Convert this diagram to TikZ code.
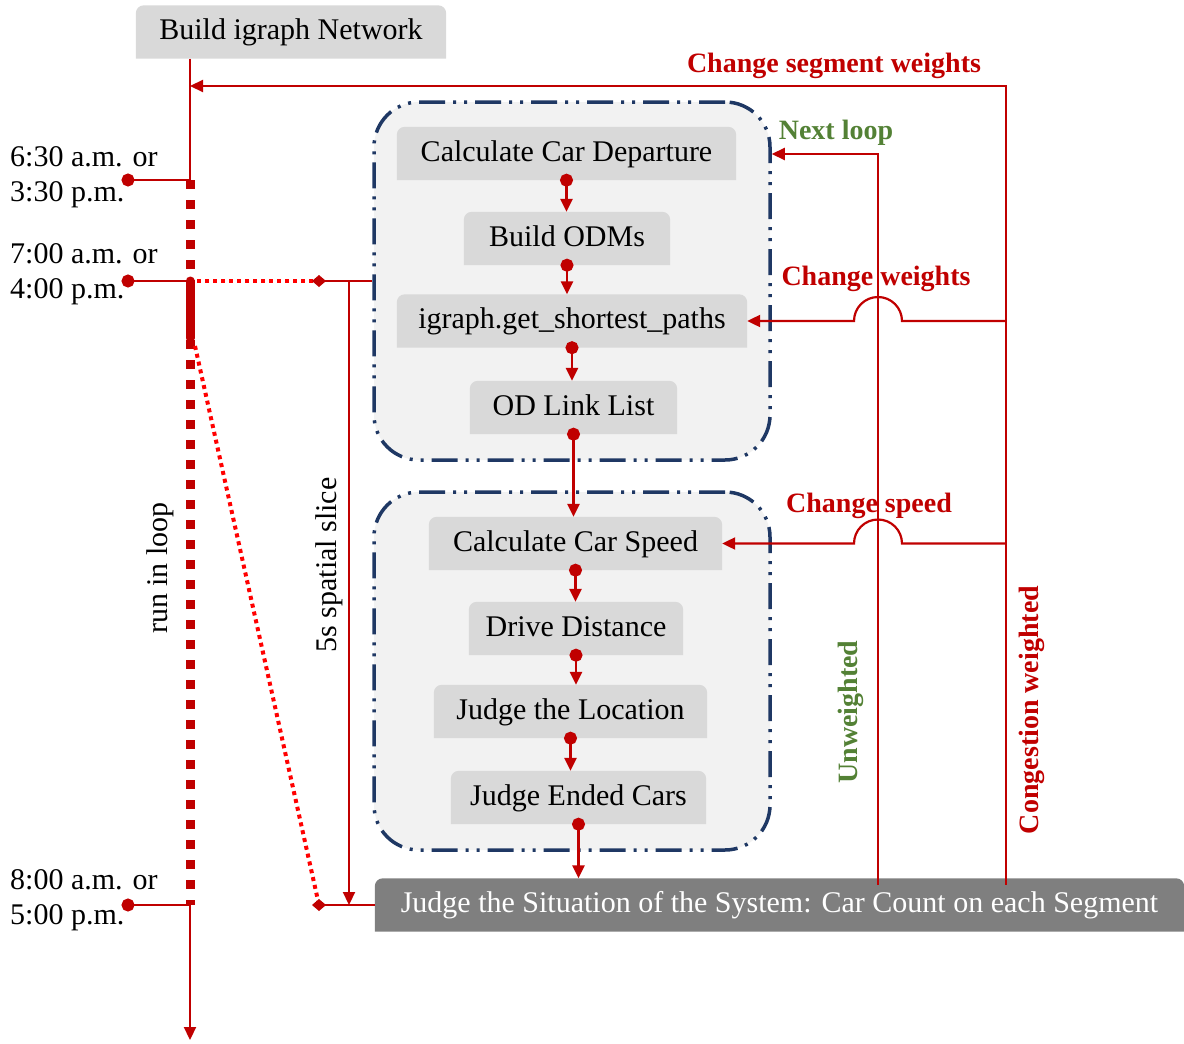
\documentclass[tikz,border=0pt]{standalone}
\usepackage{fontspec}
\setmainfont{Liberation Serif}
\usetikzlibrary{arrows.meta,backgrounds,calc}
\definecolor{dred}{HTML}{C00000}
\definecolor{bred}{HTML}{FF0000}
\definecolor{navy}{HTML}{1F3864}
\definecolor{lgray}{HTML}{D9D9D9}
\definecolor{vlgray}{HTML}{F2F2F2}
\definecolor{dgray}{HTML}{7F7F7F}
\definecolor{dgreen}{HTML}{538135}
\newcommand\fsz{\fontsize{30}{35}\selectfont}
\newcommand\lsz{\fontsize{28}{33}\selectfont\bfseries}
\newcommand\toprnd[2]{\fill[#2] (#1.south west) [rounded corners=8pt] -- (#1.north west) -- (#1.north east) [sharp corners] -- (#1.south east) -- cycle;}
\begin{document}
\begin{tikzpicture}[x=1pt,y=-1pt,
  txt/.style={font=\fsz, inner sep=0pt},
  lbl/.style={font=\lsz, inner sep=0pt},
  stepbox/.style={txt, minimum height=53pt, text height=21pt, text depth=6pt},
  container/.style={draw=navy, fill=vlgray, line width=3.5pt, rounded corners=45pt,
     dash pattern=on 26pt off 8pt on 3pt off 8pt on 3pt off 8pt,
     minimum width=396pt, minimum height=358pt, inner sep=0pt},
  conn/.style={dred, line width=2.5pt, shorten <=-6.5pt,
     {Circle[length=13pt]}-{Triangle[length=13pt,width=12pt]}},
  rline/.style={dred, line width=2.2pt},
  tip/.style={-{Triangle[length=13pt,width=12pt]}},
  dotred/.style={bred, line width=4pt, dash pattern=on 4pt off 4pt},
  dia/.style={{Diamond[length=14pt,width=12pt]}-, shorten <=-7pt},
  dot/.style={{Circle[length=13pt]}-, shorten <=-6.5pt}
]
\useasboundingbox (0,0) rectangle (1184,1044);

% step nodes
\node[stepbox, minimum width=310pt] (build) at (291,32) {Build igraph Network};
\node[stepbox, minimum width=339pt] (dep) at (566.5,153.5) {Calculate Car Departure};
\node[stepbox, minimum width=206pt] (odm) at (567,238.5) {Build ODMs};
\node[stepbox, minimum width=350pt] (sp) at (572,321) {igraph.get\_shortest\_paths};
\node[stepbox, minimum width=207pt] (odl) at (573.5,407.5) {OD Link List};
\node[stepbox, minimum width=293pt] (spd) at (575.5,543.5) {Calculate Car Speed};
\node[stepbox, minimum width=214pt] (drv) at (576,628.5) {Drive Distance};
\node[stepbox, minimum width=273pt] (loc) at (570.5,711.5) {Judge the Location};
\node[stepbox, minimum width=255pt] (endc) at (578.5,797.5) {Judge Ended Cars};
\node[stepbox, minimum width=809pt, text=white] (sys) at (779.5,905) {Judge the Situation of the System: Car Count on each Segment};

\begin{scope}[on background layer]
  \node[container] (loop1) at (572,281) {};
  \node[container] (loop2) at (572,671) {};
  \toprnd{build}{lgray}
  \toprnd{dep}{lgray}
  \toprnd{odm}{lgray}
  \toprnd{sp}{lgray}
  \toprnd{odl}{lgray}
  \toprnd{spd}{lgray}
  \toprnd{drv}{lgray}
  \toprnd{loc}{lgray}
  \toprnd{endc}{lgray}
  \toprnd{sys}{dgray}
\end{scope}

% flow connectors
\foreach \a/\b in {dep/odm, odm/sp, sp/odl, odl/spd, spd/drv, drv/loc, loc/endc, endc/sys}
  \draw[conn] (\a.south) -- (\a.south |- \b.north);

% timeline
\coordinate (t1) at (190,180);
\coordinate (t2) at (190,281);
\coordinate (t2b) at (190,338);
\coordinate (t3) at (190,905);
\coordinate (tend) at (190,1040);
\draw[rline] (build.south -| t1) -- (t1);
\draw[dred, line width=9pt, dash pattern=on 9pt off 11pt] (t1) -- (t3);
\draw[dred, line width=9pt, line cap=round] (t2) -- (t2b);
\draw[rline, tip] (t3) -- (tend);

% time labels
\node[txt, align=left, anchor=west] (l1) at (10,177.5) {6:30 a.m. or\\3:30 p.m.};
\node[txt, align=left, anchor=west] (l2) at (10,274) {7:00 a.m. or\\4:00 p.m.};
\node[txt, align=left, anchor=west] (l3) at (10,900) {8:00 a.m. or\\5:00 p.m.};
\coordinate (d1) at (128,180);
\coordinate (d2) at (128,281);
\coordinate (d3) at (128,905);
\draw[rline, dot] (d1) -- (t1);
\draw[rline, dot] (d2) -- (t2);
\draw[rline, dot] (d3) -- (t3);

% spatial slice
\coordinate (dm1) at (319,281);
\coordinate (dm2) at (319,905);
\coordinate (s1) at (349,281);
\coordinate (s2) at (349,905);
\draw[dotred] ($(t2)+(7,0)$) -- (dm1);
\draw[dotred] ($(t2b)+(5,8)$) -- (dm2);
\draw[rline, dred, dia] (dm1) -- (loop1.west |- dm1);
\draw[rline, dred, dia] (dm2) -- (sys.west);
\draw[rline, tip] (s1) -- (s2);

\node[txt, rotate=90] (rl) at (160,568) {run in loop};
\node[txt, rotate=90] (ss) at (329,565) {5s spatial slice};

% right side feedback
\coordinate (cwt) at (1006,86);
\coordinate (nlt) at (878,154);
\draw[rline, dot, tip] (sys.north -| cwt) -- (cwt) -- (cwt -| t1);
\draw[rline, dot, tip] (sys.north -| nlt) -- (nlt) -- (loop1.east |- nlt);
\draw[rline, tip] (cwt |- sp.east) -- ($(nlt |- sp.east)+(24,0)$) arc[start angle=0, end angle=180, radius=24pt] -- (sp.east);
\draw[rline, tip] (cwt |- spd.east) -- ($(nlt |- spd.east)+(24,0)$) arc[start angle=0, end angle=180, radius=24pt] -- (spd.east);

\node[lbl, text=dred] (csw) at (834,66) {Change segment weights};
\node[lbl, text=dgreen] (nl) at (836,132.5) {Next loop};
\node[lbl, text=dred] (chw) at (876,278.5) {Change weights};
\node[lbl, text=dred] (chs) at (869,505.5) {Change speed};
\node[lbl, rotate=90, text=dgreen] (uw) at (851,712) {Unweighted};
\node[lbl, rotate=90, text=dred] (cwl) at (1032,710) {Congestion weighted};
\end{tikzpicture}
\end{document}
